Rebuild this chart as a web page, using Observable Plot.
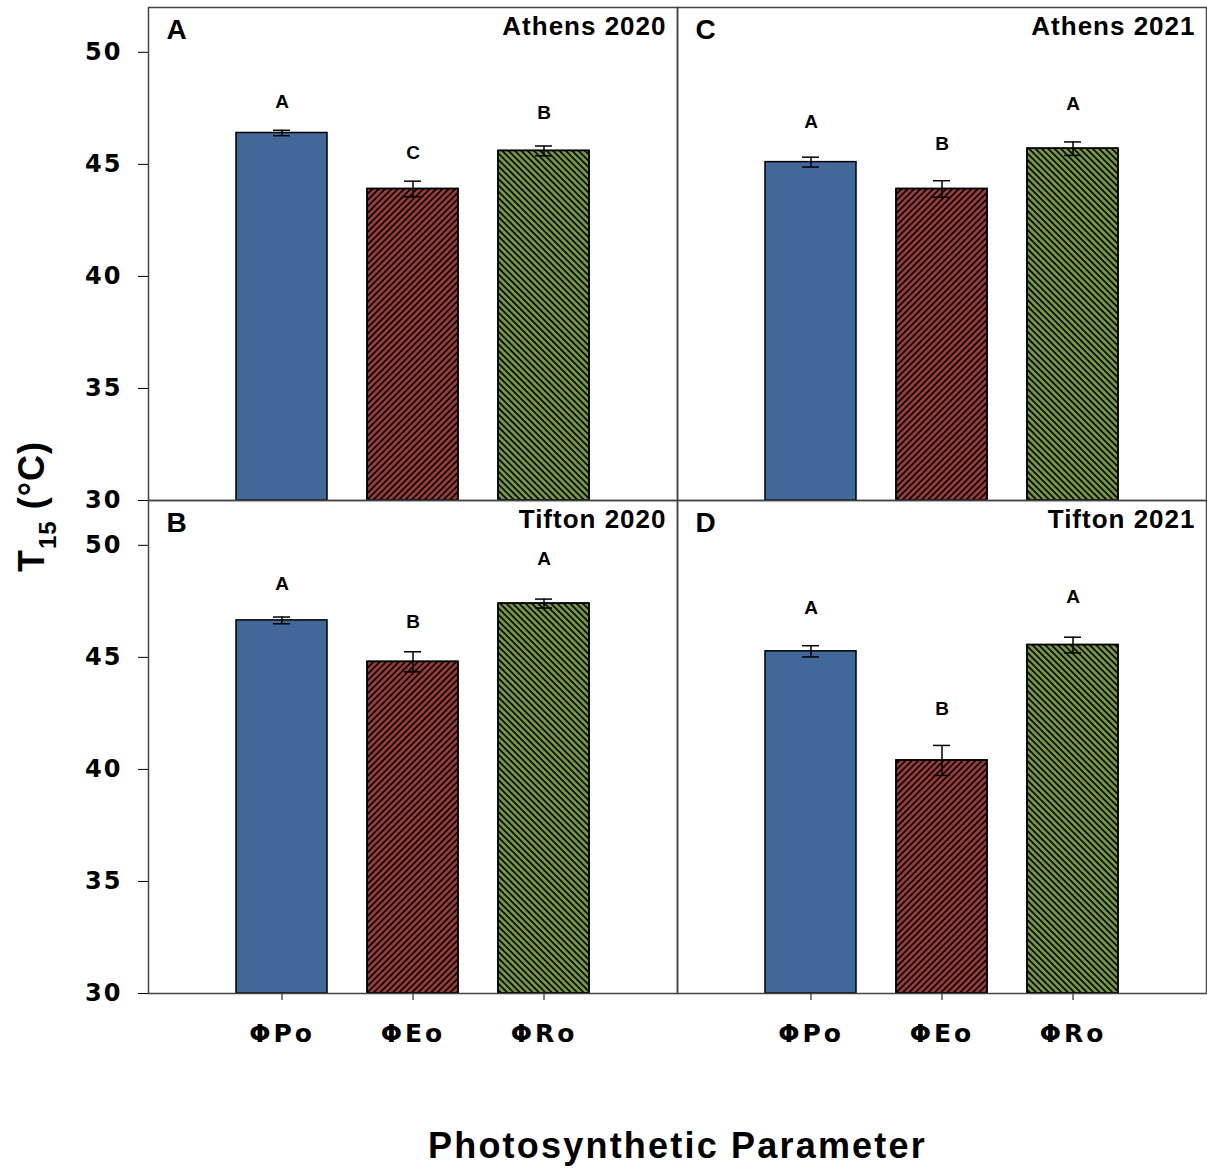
<!DOCTYPE html>
<html><head><meta charset="utf-8">
<script src="https://cdn.jsdelivr.net/npm/d3@7"></script>
<script src="https://cdn.jsdelivr.net/npm/@observablehq/plot@0.6"></script>
<style>
body{margin:0;background:#fff}
#chart svg{display:block}
[aria-label^="y-axis"] text{font-family:"DejaVu Sans",sans-serif;font-size:24px;font-weight:bold;letter-spacing:2px;fill:#000}
[aria-label^="x-axis"] text{font-family:"DejaVu Sans",sans-serif;font-size:25px;font-weight:bold;letter-spacing:3px;fill:#000}
</style></head><body><div id="chart"></div>
<script>
// ---- data ----
const params = ["ΦPo", "ΦEo", "ΦRo"];
const panelIds = ["A", "B", "C", "D"];
const sites = ["Athens 2020", "Tifton 2020", "Athens 2021", "Tifton 2021"];
const panelCol = [0, 0, 1, 1];
const panelRow = [0, 1, 0, 1];
const means = [
  [46.4, 43.9, 45.6],
  [46.65, 44.8, 47.4],
  [45.1, 43.9, 45.7],
  [45.27, 40.4, 45.55]
];
const errs = [
  [0.12, 0.35, 0.22],
  [0.15, 0.45, 0.2],
  [0.22, 0.37, 0.3],
  [0.25, 0.67, 0.35]
];
const letters = [
  ["A", "C", "B"],
  ["A", "B", "A"],
  ["A", "B", "A"],
  ["A", "B", "A"]
];
const letterY = [
  [47.8, 45.5, 47.3],
  [48.3, 46.6, 49.4],
  [46.9, 45.9, 47.7],
  [47.2, 42.7, 47.7]
];
const yTicks = [30, 35, 40, 45, 50];
const colors = ["#416899", "#9b3d3a", "#7a9a42"];
const yTitle = "T15 (°C)";
const xTitle = "Photosynthetic Parameter";

// ---- tables built from the arrays ----
const rows = panelIds.flatMap((p, i) => params.map((q, j) => ({
  panel: p, col: panelCol[i], row: panelRow[i], param: q,
  mean: means[i][j], err: errs[i][j], letter: letters[i][j], ly: letterY[i][j]
})));
const panels = panelIds.map((p, i) => ({panel: p, site: sites[i], col: panelCol[i], row: panelRow[i]}));

const font = "Liberation Sans, Arial, sans-serif";
const fc = {fx: "col", fy: "row"};

const plot = Plot.plot({
  width: 1207, height: 1169,
  marginLeft: 148, marginRight: 1, marginTop: 7, marginBottom: 176,
  style: {fontFamily: font, fontWeight: "bold", background: "#fff", color: "#000"},
  fx: {domain: [0, 1], padding: 0, axis: null, label: null},
  fy: {domain: [0, 1], padding: 0, axis: null, label: null},
  x: {domain: params, paddingInner: 0.303, paddingOuter: 0.659, tickSize: 7, tickPadding: 24, label: null},
  y: {domain: [30, 52], ticks: yTicks, tickSize: 10, tickPadding: 16, label: null},
  color: {domain: params, range: colors},
  marks: [
    Plot.barY(rows, {...fc, x: "param", y1: 30, y2: "mean", fill: "param", stroke: "#000", strokeWidth: 1.5}),
    Plot.barY(rows.filter(d => d.param === params[1]), {...fc, x: "param", y1: 30, y2: "mean", fill: "url(#hatchFwd)", stroke: "#000", strokeWidth: 1.5}),
    Plot.barY(rows.filter(d => d.param === params[2]), {...fc, x: "param", y1: 30, y2: "mean", fill: "url(#hatchBack)", stroke: "#000", strokeWidth: 1.5}),
    Plot.ruleX(rows, {...fc, x: "param", y1: d => d.mean - d.err, y2: d => d.mean + d.err, stroke: "#000", strokeWidth: 1.5}),
    Plot.tickY(rows, {...fc, x: "param", y: d => d.mean + d.err, insetLeft: 37, insetRight: 37, stroke: "#000", strokeWidth: 1.5}),
    Plot.tickY(rows, {...fc, x: "param", y: d => d.mean - d.err, insetLeft: 37, insetRight: 37, stroke: "#000", strokeWidth: 1.5}),
    Plot.text(rows, {...fc, x: "param", y: "ly", text: "letter", fontSize: 19, fontWeight: "bold", fill: "#000"}),
    Plot.frame({stroke: "#444", strokeWidth: 1.5}),
    Plot.text(panels, {...fc, text: "panel", frameAnchor: "top-left", dx: 18, dy: 12, lineAnchor: "top", fontSize: 28, fontWeight: "bold", fill: "#000"}),
    Plot.text(panels, {...fc, text: "site", frameAnchor: "top-right", dx: -11, dy: 9, lineAnchor: "top", fontSize: 26, fontWeight: "bold", fill: "#000"}),
    Plot.text([{col: 0, row: 0}], {...fc, text: () => yTitle, frameAnchor: "bottom-left", dx: -116, dy: 6, rotate: -90, textAnchor: "middle", lineAnchor: "middle", fontSize: 36, fontWeight: "bold", fill: "#000"}),
    Plot.text([{col: 0, row: 1}], {...fc, text: () => xTitle, frameAnchor: "bottom-right", dx: 0, dy: 153, textAnchor: "middle", lineAnchor: "middle", fontSize: 36, fontWeight: "bold", fill: "#000"})
  ]
});

// hatch patterns
const svg = d3.select(plot);
const defs = svg.insert("defs", ":first-child");
[["hatchFwd", 45], ["hatchBack", -45]].forEach(([id, ang]) => {
  defs.append("pattern").attr("id", id).attr("patternUnits", "userSpaceOnUse")
    .attr("width", 4.5).attr("height", 4.5).attr("patternTransform", `rotate(${ang})`)
    .append("line").attr("x1", 1).attr("y1", -1).attr("x2", 1).attr("y2", 6)
    .attr("stroke", "#000").attr("stroke-width", 1.7);
});

// letter spacing for titles
svg.selectAll("text").filter(function() { return sites.includes(this.textContent); })
  .style("letter-spacing", "1px");
svg.selectAll("text").filter(function() { return this.textContent === xTitle; })
  .style("letter-spacing", "2.2px");

// subscript in the y title
svg.selectAll("text").filter(function() { return this.textContent === yTitle; }).each(function() {
  const t = d3.select(this);
  t.text(null).style("letter-spacing", "1px");
  t.append("tspan").text("T");
  t.append("tspan").attr("dy", 12).attr("font-size", 24).text("15");
  t.append("tspan").attr("dy", -12).text(" (°C)");
});

document.getElementById("chart").append(plot);
</script>
</body></html>
